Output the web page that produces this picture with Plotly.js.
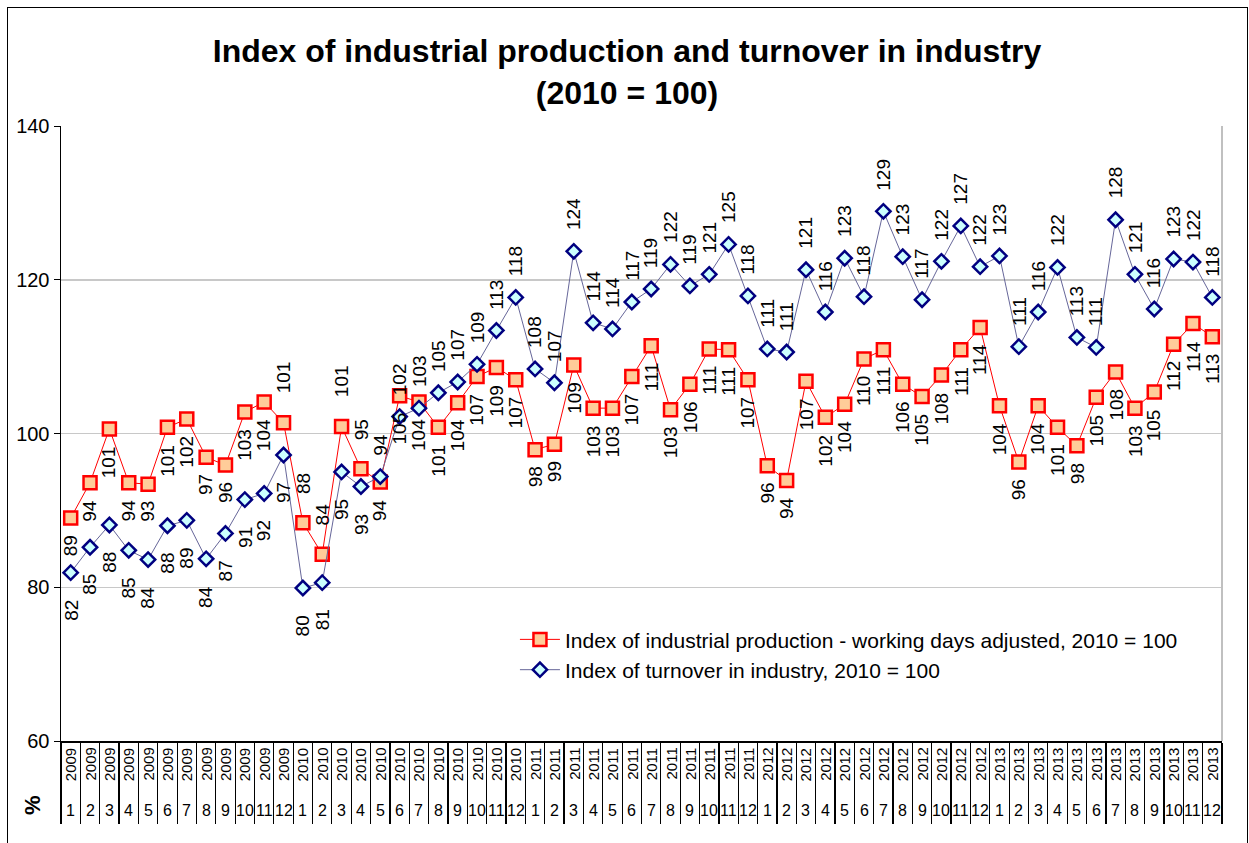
<!DOCTYPE html>
<html>
<head>
<meta charset="utf-8">
<script src="https://cdn.plot.ly/plotly-3.0.1.min.js"></script>
<style>
  html, body { margin: 0; padding: 0; background: #fff; }
  #wrap { position: relative; width: 1249px; height: 843px; }
  #chart { width: 1249px; height: 843px; }
  #frame { position: absolute; left: 7px; top: 7px; width: 1239px; height: 850px;
           border: 1.5px solid #000; pointer-events: none; }
</style>
</head>
<body>
<div id="wrap"><div id="chart"></div><div id="frame"></div></div>
<script>
// ---- data ----
const years = [
  2009,2009,2009,2009,2009,2009,2009,2009,2009,2009,2009,2009,
  2010,2010,2010,2010,2010,2010,2010,2010,2010,2010,2010,2010,
  2011,2011,2011,2011,2011,2011,2011,2011,2011,2011,2011,2011,
  2012,2012,2012,2012,2012,2012,2012,2012,2012,2012,2012,2012,
  2013,2013,2013,2013,2013,2013,2013,2013,2013,2013,2013,2013
];
const months = [
  1,2,3,4,5,6,7,8,9,10,11,12,
  1,2,3,4,5,6,7,8,9,10,11,12,
  1,2,3,4,5,6,7,8,9,10,11,12,
  1,2,3,4,5,6,7,8,9,10,11,12,
  1,2,3,4,5,6,7,8,9,10,11,12
];
const production = [
  89.0, 93.6, 100.6, 93.6, 93.4, 100.8, 101.9, 96.9, 95.9, 102.8, 104.1, 101.4,
  88.4, 84.3, 100.9, 95.4, 93.7, 104.9, 104.1, 100.8, 104.0, 107.4, 108.6, 107.0,
  97.9, 98.6, 108.9, 103.3, 103.3, 107.4, 111.4, 103.1, 106.4, 111.0, 110.9, 107.0,
  95.8, 93.9, 106.8, 102.1, 103.8, 109.7, 110.9, 106.4, 104.8, 107.6, 110.9, 113.8,
  103.6, 96.3, 103.6, 100.8, 98.4, 104.7, 108.0, 103.3, 105.4, 111.6, 114.3, 112.6
];
const turnover = [
  81.9, 85.2, 88.1, 84.8, 83.6, 88.0, 88.7, 83.7, 87.0, 91.4, 92.2, 97.2,
  79.9, 80.6, 95.0, 93.1, 94.4, 102.2, 103.3, 105.3, 106.7, 109.0, 113.4, 117.7,
  108.4, 106.6, 123.7, 114.4, 113.6, 117.1, 118.8, 122.0, 119.2, 120.7, 124.6, 117.9,
  111.0, 110.6, 121.3, 115.8, 122.8, 117.8, 128.9, 123.0, 117.4, 122.4, 127.0, 121.7,
  123.1, 111.3, 115.8, 121.6, 112.5, 111.2, 127.8, 120.7, 116.2, 122.7, 122.3, 117.7
];
const seriesNames = [
  'Index of industrial production - working days adjusted, 2010 = 100',
  'Index of turnover in industry, 2010 = 100'
];

// ---- label placement (style) ----
const prodLabelUp = new Set([11, 12, 13, 14, 15]);
const turnLabelDownUntil = 15; // indices <= this are below the marker

const FONT = 'Arial, "Liberation Sans", sans-serif';
const cats = years.map((y, i) => y + '-' + months[i]);

const traces = [
  {
    x: cats, y: production, name: seriesNames[0], type: 'scatter', mode: 'lines+markers',
    line: { color: '#FF0000', width: 1 },
    marker: { symbol: 'square', size: 13, color: '#FFCC99', line: { color: '#FF0000', width: 2.5 } },
    hoverinfo: 'x+y'
  },
  {
    x: cats, y: turnover, name: seriesNames[1], type: 'scatter', mode: 'lines+markers',
    line: { color: '#666699', width: 1 },
    marker: { symbol: 'diamond', size: 11, color: '#CCFFFF', line: { color: '#000080', width: 2.5 } },
    hoverinfo: 'x+y'
  }
];

const annotations = [];
function addLabel(cat, val, up, gapUp, gapDown) {
  annotations.push({
    x: cat, y: val, xref: 'x', yref: 'y', showarrow: false,
    text: String(Math.round(val)), textangle: -90,
    xanchor: 'center', yanchor: up ? 'bottom' : 'top',
    yshift: up ? gapUp : -gapDown,
    font: { family: FONT, size: 19, color: '#000' }
  });
}
production.forEach((v, i) => addLabel(cats[i], v, prodLabelUp.has(i), 27, 15));
turnover.forEach((v, i) => addLabel(cats[i], v, i > turnLabelDownUntil, 19, 25));

// axis category labels
cats.forEach((c, i) => {
  annotations.push({
    x: c, y: 0, xref: 'x', yref: 'paper', showarrow: false,
    text: String(years[i]), textangle: -90, xanchor: 'center', yanchor: 'top', yshift: -5,
    font: { family: FONT, size: 15, color: '#000' }
  });
  annotations.push({
    x: c, y: 0, xref: 'x', yref: 'paper', showarrow: false,
    text: String(months[i]), xanchor: 'center', yanchor: 'middle', yshift: -69,
    font: { family: FONT, size: 16, color: '#000' }
  });
});
annotations.push({
  x: -0.024, y: -0.104, xref: 'paper', yref: 'paper', showarrow: false,
  text: '<b>%</b>', textangle: -90, xanchor: 'center', yanchor: 'middle',
  font: { family: FONT, size: 22, color: '#000' }
});

const layout = {
  width: 1249, height: 843,
  margin: { l: 61, r: 27, t: 126, b: 102 },
  paper_bgcolor: '#fff', plot_bgcolor: '#fff',
  font: { family: FONT, color: '#000' },
  title: {
    text: '<b>Index of industrial production and turnover in industry<br>(2010 = 100)</b>',
    font: { family: FONT, size: 32, color: '#000' },
    x: 0.502, xanchor: 'center', xref: 'container',
    y: 1 - 62 / 843, yanchor: 'middle', yref: 'container'
  },
  xaxis: {
    type: 'category', categoryorder: 'array', categoryarray: cats,
    range: [-0.5, cats.length - 0.5], autorange: false,
    showticklabels: false, tickson: 'boundaries', ticks: 'outside', ticklen: 81,
    tickwidth: 1.2, tickcolor: '#000',
    showline: true, linecolor: '#000', linewidth: 1.5,
    showgrid: false, zeroline: false, fixedrange: true
  },
  yaxis: {
    range: [60, 140], autorange: false, dtick: 20, tick0: 60,
    ticks: 'outside', ticklen: 6, tickcolor: '#000', tickwidth: 1,
    tickfont: { family: FONT, size: 20, color: '#000' },
    showline: true, linecolor: '#000', linewidth: 1.5,
    showgrid: true, gridcolor: '#C8C8C8', gridwidth: 1.5,
    zeroline: false, fixedrange: true
  },
  shapes: [
    { type: 'line', xref: 'paper', yref: 'paper', x0: 1, x1: 1, y0: 0, y1: 1,
      line: { color: '#C0C0C0', width: 2 } }
  ],
  legend: {
    x: 0.391, y: 0.198, xanchor: 'left', yanchor: 'top',
    bgcolor: 'rgba(0,0,0,0)', borderwidth: 0,
    font: { family: FONT, size: 21, color: '#000' },
    itemwidth: 40
  },
  annotations: annotations,
  showlegend: true
};

Plotly.newPlot('chart', traces, layout, { displayModeBar: false, staticPlot: true });
</script>
</body>
</html>
